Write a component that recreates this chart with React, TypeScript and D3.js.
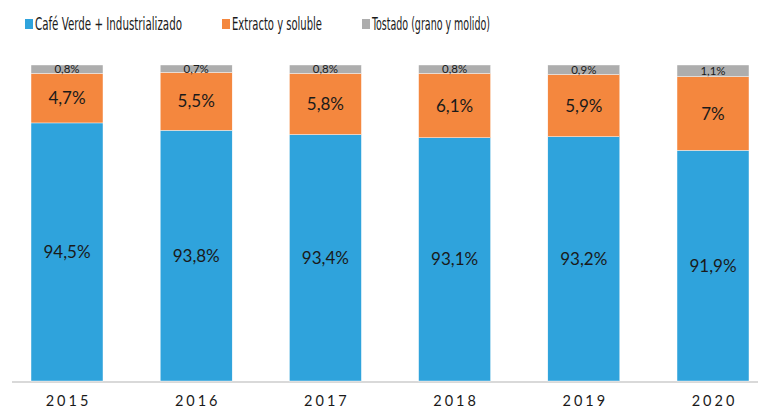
import React, { useEffect, useRef } from 'react';
import * as d3 from 'd3';

const years = ['2015', '2016', '2017', '2018', '2019', '2020'];
const verde = [94.5, 93.8, 93.4, 93.1, 93.2, 91.9];
const extracto = [4.7, 5.5, 5.8, 6.1, 5.9, 7];
const tostado = [0.8, 0.7, 0.8, 0.8, 0.9, 1.1];
const seriesNames = ['Café Verde + Industrializado', 'Extracto y soluble', 'Tostado (grano y molido)'];
const colors = ['#2fa3dc', '#f4873e', '#adadad'];

const fmt = (v: number) => String(v).replace('.', ',') + '%';

export default function App() {
  const ref = useRef<SVGSVGElement>(null);

  useEffect(() => {
    const svg = d3.select(ref.current);
    svg.selectAll('*').remove();
    const font = 'Lato, "Open Sans", sans-serif';
    const narrow = '"Liberation Sans Narrow", "DejaVu Sans Condensed", Lato, sans-serif';

    const x = d3.scaleBand().domain(years).range([2.4, 777.6]).paddingInner(0.443).paddingOuter(0.2215);
    const y = d3.scaleLinear().domain([70, 100]).range([381, 65]);

    const rows = years.map((yr, i) => ({ year: yr, v: verde[i], e: extracto[i], t: tostado[i] }));
    const stack = d3.stack<any>().keys(['v', 'e', 't'])(rows);

    // axis line
    svg.append('line')
      .attr('x1', 12).attr('x2', 758)
      .attr('y1', 382).attr('y2', 382)
      .attr('stroke', '#d9d9d9').attr('stroke-width', 2);

    const fontSizes = [17, 17, 11.5];
    stack.forEach((layer, k) => {
      const g = svg.append('g');
      g.selectAll('rect')
        .data(layer)
        .enter().append('rect')
        .attr('x', d => x(d.data.year)!)
        .attr('width', x.bandwidth())
        .attr('y', d => y(Math.min(d[1], 100)))
        .attr('height', d => y(Math.max(d[0], 70)) - y(Math.min(d[1], 100)))
        .attr('fill', colors[k])
        .attr('stroke', '#ffffff').attr('stroke-width', 0.4);
      g.selectAll('text')
        .data(layer)
        .enter().append('text')
        .attr('x', d => x(d.data.year)! + x.bandwidth() / 2)
        .attr('y', d => (y(Math.min(d[1], 100)) + y(Math.max(d[0], 70))) / 2)
        .attr('dy', '0.36em')
        .attr('text-anchor', 'middle')
        .attr('font-family', font)
        .attr('font-size', fontSizes[k])
        .attr('fill', '#1a1a1a')
        .text(d => fmt(+(d[1] - d[0]).toFixed(1)));
    });

    // year labels
    svg.append('g').selectAll('text')
      .data(years)
      .enter().append('text')
      .attr('x', d => x(d)! + x.bandwidth() / 2 + 1.5)
      .attr('y', 406)
      .attr('text-anchor', 'middle')
      .attr('font-family', font)
      .attr('font-size', 14.5)
      .attr('letter-spacing', 3)
      .attr('fill', '#1a1a1a')
      .text(d => d);

    // legend
    const legX = [25, 222, 362];
    const legW = [147, 90, 118];
    const leg = svg.append('g');
    seriesNames.forEach((name, i) => {
      leg.append('rect')
        .attr('x', legX[i]).attr('y', 19)
        .attr('width', 8).attr('height', 10)
        .attr('fill', colors[i]);
      leg.append('text')
        .attr('x', legX[i] + 10).attr('y', 29.5)
        .attr('font-family', narrow)
        .attr('font-size', 17)
        .attr('fill', '#1a1a1a')
        .attr('textLength', legW[i])
        .attr('lengthAdjust', 'spacingAndGlyphs')
        .text(name);
    });
  }, []);

  return (
    <svg ref={ref} width={758} height={408} style={{ position: 'absolute', left: 0, top: 0, background: '#fff' }} />
  );
}
